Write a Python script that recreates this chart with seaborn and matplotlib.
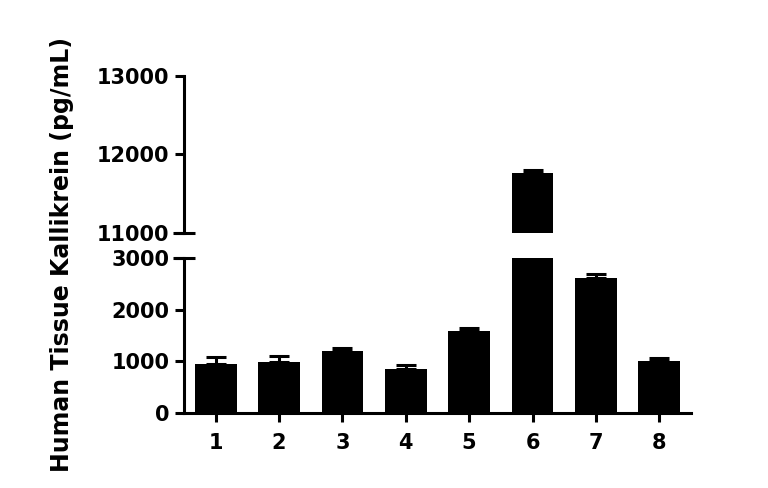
import matplotlib
matplotlib.use("Agg")
import matplotlib.pyplot as plt
import seaborn as sns
import pandas as pd
import numpy as np

# sample data
samples = ["1", "2", "3", "4", "5", "6", "7", "8"]
means = [940, 980, 1205, 838, 1583, 11761, 2614, 1011]
errs = [148, 120, 57, 77, 58, 43, 90, 51]

lower_ticks = [0, 1000, 2000, 3000]
upper_ticks = [11000, 12000, 13000]

sns.set_style("ticks")
plt.rcParams["font.family"] = ["DejaVu Sans"]
plt.rcParams["font.weight"] = "bold"
plt.rcParams["axes.edgecolor"] = "black"
plt.rcParams["text.color"] = "black"
plt.rcParams["xtick.color"] = "black"
plt.rcParams["ytick.color"] = "black"

df = pd.DataFrame({"sample": samples, "value": means})

fig = plt.figure(figsize=(7.68, 4.88), dpi=100)
ax_lo = fig.add_axes([0.2396, 0.1547, 0.6601, 0.316])
ax_hi = fig.add_axes([0.2396, 0.5232, 0.6601, 0.3217])

lw = 2.2
for ax in (ax_lo, ax_hi):
    sns.barplot(data=df, x="sample", y="value", color="black", width=0.66,
                saturation=1, errorbar=None, ax=ax, edgecolor="black", linewidth=0)
    ax.errorbar(np.arange(len(samples)), means,
                yerr=[np.zeros(len(errs)), errs], fmt="none", ecolor="black",
                elinewidth=lw, capsize=7.2, capthick=lw)
    ax.set_xlim(-0.5, 7.5)
    ax.set_xlabel("")
    ax.set_ylabel("")
    for s in ("top", "right"):
        ax.spines[s].set_visible(False)
    for s in ("left", "bottom"):
        ax.spines[s].set_linewidth(lw)
        ax.spines[s].set_color("black")
    ax.tick_params(axis="both", width=lw, length=6.5, labelsize=15, colors="black")

ax_lo.set_ylim(0, 3000)
ax_lo.set_yticks(lower_ticks)
ax_lo.tick_params(axis="x", pad=8)
ax_lo.tick_params(axis="y", pad=4)

ax_hi.set_ylim(11000, 13000)
ax_hi.set_yticks(upper_ticks)
ax_hi.spines["bottom"].set_visible(False)
ax_hi.tick_params(axis="x", bottom=False, labelbottom=False)
ax_hi.tick_params(axis="y", pad=4)

for ax in (ax_lo, ax_hi):
    plt.setp(ax.get_xticklabels(), fontweight="bold")
    plt.setp(ax.get_yticklabels(), fontweight="bold")

# small caps across the spine at the axis break
ax_hi.plot(0, 0, marker="_", markersize=16, mew=lw, color="black",
           transform=ax_hi.transAxes, clip_on=False)
ax_lo.plot(0, 1, marker="_", markersize=16, mew=lw, color="black",
           transform=ax_lo.transAxes, clip_on=False)

fig.text(0.081, 1 - 254 / 488, "Human Tissue Kallikrein (pg/mL)", rotation=90,
         ha="center", va="center", fontsize=17, fontweight="bold", color="black")

fig.savefig("out.png", dpi=100)
